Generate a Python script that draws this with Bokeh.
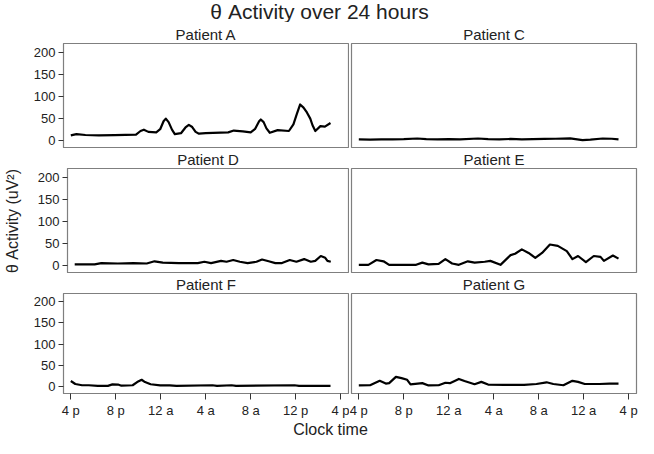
from bokeh.plotting import figure
from bokeh.layouts import column, row
from bokeh.models import Range1d, FixedTicker
from bokeh.embed import file_html
from bokeh.resources import INLINE
from bokeh.core.properties import value

title_text = "θ Activity over 24 hours"
y_label = "θ Activity (uV²)"
x_label = "Clock time"
patients = ["Patient A", "Patient C", "Patient D", "Patient E", "Patient F", "Patient G"]
tick_hours = [0, 4, 8, 12, 16, 20, 24]
tick_labels_left = ["4 p", "8 p", "12 a", "4 a", "8 a", "12 p", "4 p"]
tick_labels_right = ["4 p", "8 p", "12 a", "4 a", "8 a", "12 a", "4 p"]
y_ticks = [0, 50, 100, 150, 200]

# hours since 4 pm, theta activity (uV^2)
a_hours = [0, 0.5, 1.3, 2.5, 3.9, 5.8, 6.2, 6.5, 6.9, 7.6, 7.95, 8.25, 8.45, 8.7, 9.0, 9.25, 9.8, 10.2, 10.5,
           10.8, 11.1, 11.4, 12.0, 14.0, 14.5, 15.3, 16.0, 16.4, 16.75, 16.9, 17.15, 17.4, 17.7, 18.4, 19.4,
           19.8, 20.1, 20.4, 20.7, 21.0, 21.3, 21.5, 21.75, 22.2, 22.6, 23.1]
a_vals = [12, 15, 13, 12, 12.5, 14, 22, 25, 20, 19, 26, 44, 50, 42, 25, 15, 17, 30, 36,
          31, 20, 16, 17, 19, 23, 21, 19, 27, 44, 48, 42, 28, 18, 24, 22,
          37, 60, 82, 75, 64, 50, 35, 22, 33, 32, 40]

c_hours = [0, 1, 2, 3, 4, 5.2, 6, 7, 8, 9, 10.6, 11.5, 12.5, 13.5, 14.5, 15.5, 16.5, 17.5, 18.8, 19.9,
           20.6, 21.7, 22.5, 23.1]
c_vals = [3, 2.5, 3, 3, 3.5, 5, 3.5, 3, 3.5, 3, 5, 3.5, 3, 4, 3, 3.5, 4, 4.5, 5.5, 1.5,
          2.5, 5, 4.5, 3]

d_hours = [0, 1.8, 2.4, 3.9, 5.3, 6.5, 7.2, 7.95, 9.4, 11.1, 11.7, 12.3, 13.2, 13.7, 14.3, 14.9, 15.6,
           16.4, 16.9, 17.5, 18.1, 18.7, 19.4, 20.0, 20.7, 21.3, 21.7, 22.2, 22.6, 22.8, 23.1]
d_vals = [3, 3, 6, 5, 6, 5, 10, 7, 6, 6, 9, 6, 11, 9, 13, 9, 6,
          9, 14, 10, 6, 6, 13, 9, 15, 9, 11, 22, 18, 11, 9]

e_hours = [0, 0.85, 1.57, 2.2, 2.7, 5.1, 5.65, 6.2, 7.1, 7.7, 8.3, 8.9, 9.7, 10.3, 11.2, 11.7, 12.6,
           13.5, 13.9, 14.5, 15.1, 15.7, 16.3, 17.0, 17.7, 18.5, 19.0, 19.5, 20.2, 20.9, 21.5, 21.8,
           22.6, 23.1]
e_vals = [2, 2, 13, 10, 2, 2, 7, 3, 4, 15, 5, 2, 10, 7, 9, 11, 2,
          24, 27, 37, 29, 18, 29, 48, 45, 33, 15, 22, 8, 22, 20, 11,
          23, 16]

f_hours = [0, 0.4, 1.0, 1.6, 2.4, 3.3, 3.7, 4.2, 4.5, 5.5, 5.9, 6.3, 6.6, 7.1, 7.95, 8.8, 9.4, 12.6,
           13.0, 14.3, 14.7, 19.9, 20.3, 23.1]
f_vals = [12, 5, 2, 2, 0.5, 0.5, 4, 3.7, 1, 2, 9.5, 15, 9.5, 4.4, 1.5, 1.5, 0.5, 2,
          0.5, 2, 0.5, 2, 0.5, 0.5]

g_hours = [0, 1.0, 1.86, 2.4, 2.7, 3.3, 3.8, 4.3, 4.6, 5.65, 6.2, 7.1, 7.7, 8.1, 8.9, 9.4, 10.3, 10.9,
           11.5, 12.9, 14.7, 15.8, 16.7, 17.3, 18.2, 19.0, 19.5, 20.1, 21.4, 22.3, 23.1]
g_vals = [1.5, 2, 12.5, 6, 7, 22, 19, 15, 4, 7, 1.5, 2, 8, 7, 17, 12, 4.4, 10,
          3.7, 3, 3, 5, 9, 5, 2, 12.5, 10, 5, 5, 6, 6]

series = [(a_hours, a_vals), (c_hours, c_vals), (d_hours, d_vals),
          (e_hours, e_vals), (f_hours, f_vals), (g_hours, g_vals)]

FONT = value("Liberation Sans")
FONT_NAME = "Liberation Sans"
OUTLINE = "#7f7f7f"
TEXT = "#222222"

TOTAL_W = 638
LEFT_B = 63
FRAME_W = 285
FRAME_H = 105

xr = Range1d(-0.65, 24.7)
yr = Range1d(-17.6, 220)


def blank(width, height, txt, size, xpos):
    f = figure(width=width, height=height, x_range=Range1d(0, width), y_range=Range1d(0, height),
               toolbar_location=None, output_backend="svg", x_axis_location=None, y_axis_location=None,
               min_border=0)
    f.grid.visible = False
    f.outline_line_color = None
    f.text(x=[xpos], y=[height / 2], text=[txt], text_align="center", text_baseline="middle",
           text_font=FONT, text_font_size=size, text_color=TEXT)
    return f


def panel(i):
    col = i % 2
    r = i // 2
    left = col == 0
    bottom = r == 2
    top_b = 21 if r == 0 else 20
    bot_b = 22 if bottom else 0
    w = LEFT_B + FRAME_W + 1 if left else 2 + FRAME_W + 2
    h = top_b + FRAME_H + bot_b
    p = figure(width=w, height=h, x_range=xr, y_range=yr, toolbar_location=None, output_backend="svg",
               x_axis_location="below" if bottom else None, y_axis_location="left" if left else None,
               min_border_left=LEFT_B if left else 2, min_border_right=1 if left else 2,
               min_border_top=top_b, min_border_bottom=bot_b, title=patients[i])
    p.title.align = "center"
    p.title.text_font = FONT_NAME
    p.title.text_font_size = "15px"
    p.title.text_font_style = "normal"
    p.title.text_color = TEXT
    p.title.standoff = 1
    p.grid.visible = False
    p.outline_line_color = OUTLINE
    p.outline_line_width = 1.2
    p.background_fill_color = "white"
    p.border_fill_color = "white"
    hrs, vals = series[i]
    p.line(hrs, vals, line_width=2.2, line_color="black", line_join="round")
    for ax in p.axis:
        ax.axis_line_color = OUTLINE
        ax.major_tick_line_color = "#333333"
        ax.major_tick_out = 5
        ax.major_tick_in = 0
        ax.minor_tick_line_color = None
        ax.major_label_text_font = FONT_NAME
        ax.major_label_text_font_size = "13px"
        ax.major_label_text_color = TEXT
        ax.major_label_standoff = 3
    if left:
        p.yaxis.ticker = FixedTicker(ticks=y_ticks, minor_ticks=[])
        if r == 1:
            p.yaxis.axis_label = y_label
            p.yaxis.axis_label_text_font = FONT_NAME
            p.yaxis.axis_label_text_font_size = "16px"
            p.yaxis.axis_label_text_font_style = "normal"
            p.yaxis.axis_label_text_color = TEXT
            p.yaxis.axis_label_standoff = 14
    if bottom:
        labels = tick_labels_left if left else tick_labels_right
        p.xaxis.ticker = FixedTicker(ticks=tick_hours, minor_ticks=[])
        p.xaxis.major_label_overrides = {h_: lab for h_, lab in zip(tick_hours, labels)}
        p.xaxis.major_tick_out = 6
    return p


panels = [panel(i) for i in range(6)]
title_fig = blank(TOTAL_W, 22, title_text, "21px", TOTAL_W / 2)
xlabel_fig = blank(TOTAL_W, 18, x_label, "16px", 330)

layout = column(title_fig,
                row(panels[0], panels[1]),
                row(panels[2], panels[3]),
                row(panels[4], panels[5]),
                xlabel_fig)

open("out.html", "w").write(file_html(layout, INLINE))
